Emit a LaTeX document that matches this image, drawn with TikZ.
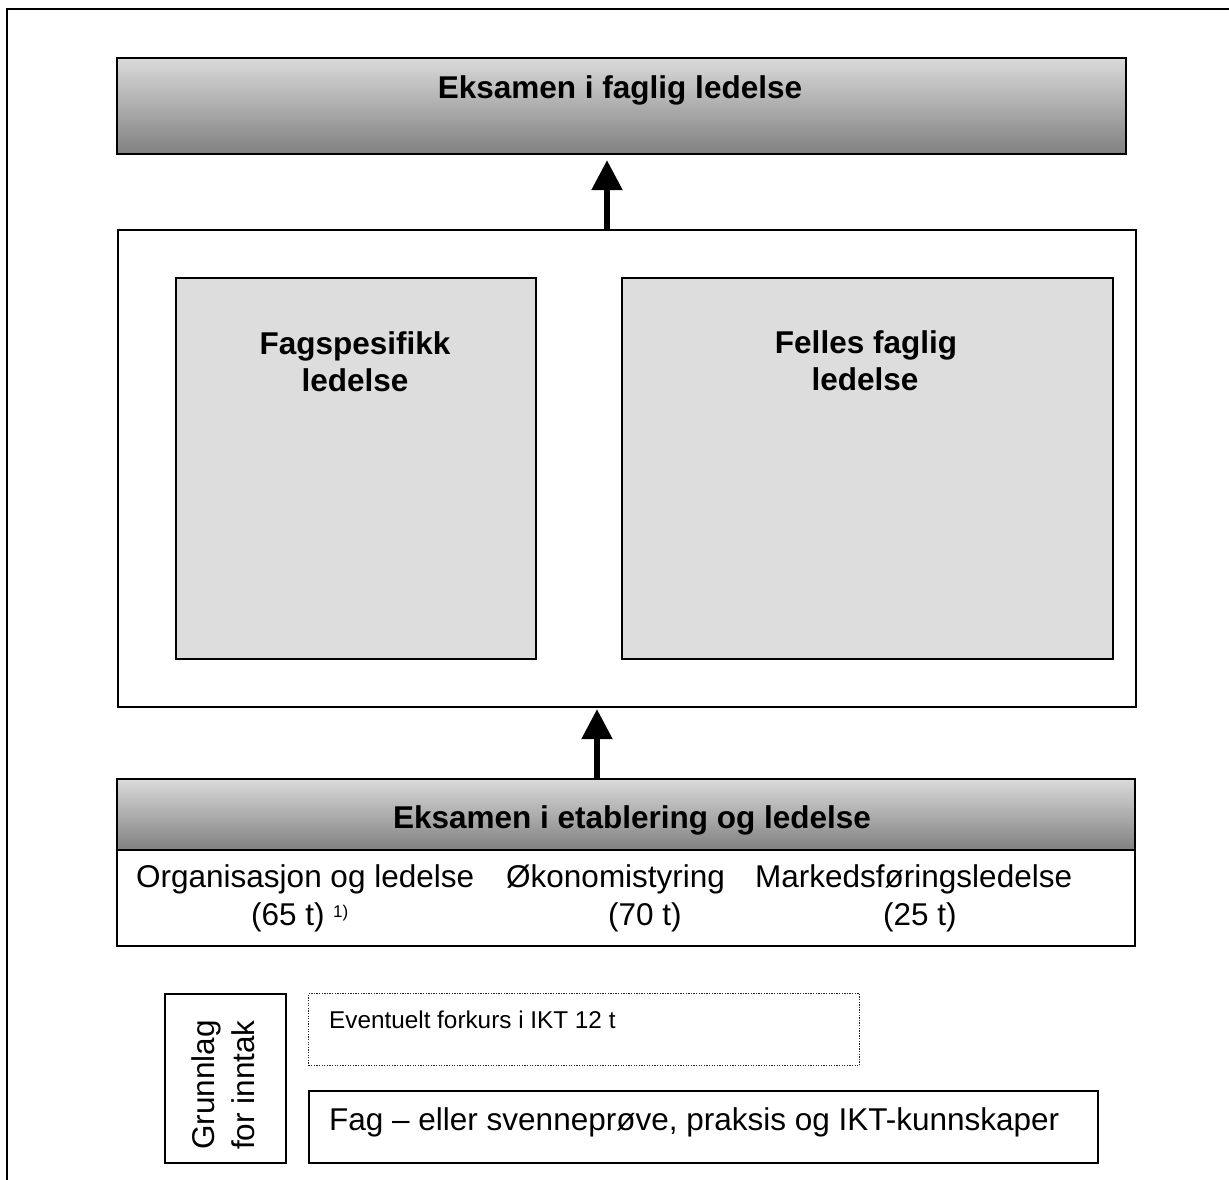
\documentclass[tikz,border=0pt]{standalone}
\usepackage{fontspec}
\setmainfont{Liberation Sans}
\usetikzlibrary{arrows.meta}
\definecolor{gradtop}{RGB}{218,218,218}
\definecolor{gradbot}{RGB}{128,128,128}
\definecolor{panel}{RGB}{221,221,221}
\begin{document}
\begin{tikzpicture}[x=1pt,y=-1pt,
  box/.style={draw=black, line width=2.2pt, rectangle, inner sep=0pt, anchor=north west},
  gradbox/.style={box, top color=gradtop, bottom color=gradbot},
  panelbox/.style={draw=black, line width=1.6pt, fill=panel, rectangle, inner sep=0pt, anchor=north west},
  bigtxt/.style={font=\fontsize{31.5}{37}\selectfont\bfseries, inner sep=0pt},
  txt/.style={font=\fontsize{31.5}{37}\selectfont, inner sep=0pt},
  smalltxt/.style={font=\fontsize{24.3}{29}\selectfont, inner sep=0pt},
  suptxt/.style={font=\fontsize{17}{20}\selectfont, inner sep=0pt},
  uparrow/.style={line width=5.5pt, -{Triangle[length=30pt,width=30pt]}},
]
\useasboundingbox (0,0) rectangle (1229,1180);
% outer frame (left and top edges visible)
\draw[line width=2.2pt] (7,1180) -- (7,9) -- (1229,9);

% top exam box
\node[gradbox, minimum width=1009pt, minimum height=96pt] (top) at (116,57) {};
\node[bigtxt, anchor=base] (toptxt) at (620,99) {Eksamen i faglig ledelse};

% middle container
\node[box, minimum width=1018pt, minimum height=477pt] (mid) at (117,229) {};
\node[panelbox, minimum width=360pt, minimum height=381pt] (fagsp) at (175,277) {};
\node[panelbox, minimum width=491pt, minimum height=381pt] (felles) at (621,277) {};
\node[bigtxt, anchor=base] (fagsp1) at (355,354) {Fagspesifikk};
\node[bigtxt, anchor=base] (fagsp2) at (355,391) {ledelse};
\node[bigtxt, anchor=base] (felles1) at (866,353) {Felles faglig};
\node[bigtxt, anchor=base] (felles2) at (865,390) {ledelse};

% lower exam box
\node[gradbox, minimum width=1018pt, minimum height=71pt] (examhead) at (116,778) {};
\node[box, minimum width=1018pt, minimum height=96pt] (exambody) at (116,849) {};
\node[bigtxt, anchor=base] (examtxt) at (632,828) {Eksamen i etablering og ledelse};
\node[txt, anchor=base west] (org) at (136,887) {Organisasjon og ledelse};
\node[txt, anchor=base west] (oko) at (506,887) {Økonomistyring};
\node[txt, anchor=base west] (mark) at (755,887) {Markedsføringsledelse};
\node[txt, anchor=base west] (orgt) at (251,925) {(65 t)};
\node[suptxt, anchor=base west] (orgsup) at (333,917) {1)};
\node[txt, anchor=base west] (okot) at (608,925) {(70 t)};
\node[txt, anchor=base west] (markt) at (883,925) {(25 t)};

% arrows
\coordinate (a1) at (607,0);
\coordinate (a2) at (597,0);
\draw[uparrow, shorten >=5pt] (mid.north -| a1) -- (top.south -| a1);
\draw[uparrow, shorten >=1pt] (examhead.north -| a2) -- (mid.south -| a2);

% admission basis
\node[box, line width=1.7pt, minimum width=121pt, minimum height=169pt] (grunn) at (164,993) {};
\node[txt, rotate=90, anchor=base] (grunn1) at (214,1085) {Grunnlag};
\node[txt, rotate=90, anchor=base] (grunn2) at (254,1085) {for inntak};
\node[draw=black!85, line width=1pt, dash pattern=on 1.3pt off 1.3pt, rectangle, inner sep=0pt, anchor=north west, minimum width=551pt, minimum height=72pt] (ikt) at (308,993) {};
\node[smalltxt, anchor=base west] (ikttxt) at (329,1028) {Eventuelt forkurs i IKT 12 t};
\node[box, line width=1.7pt, minimum width=789pt, minimum height=72pt] (fagbox) at (308,1090) {};
\node[txt, anchor=base west] (fagtxt) at (329,1130) {Fag – eller svenneprøve, praksis og IKT-kunnskaper};
\end{tikzpicture}
\end{document}
